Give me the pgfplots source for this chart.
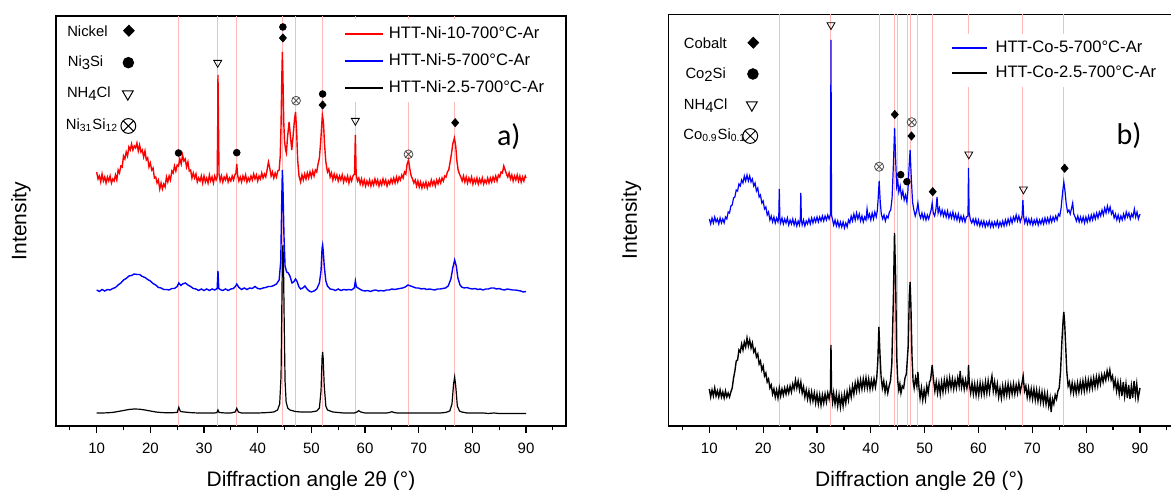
\documentclass[border=0pt]{standalone}
\usepackage{fontspec}
\setmainfont{Liberation Sans}
\newfontfamily\calfont{Carlito}
\usepackage{pgfplots}
\pgfplotsset{compat=1.18}
\definecolor{refpink}{RGB}{255,185,185}
\definecolor{mkgray}{RGB}{80,80,80}

\tikzset{lab/.style={anchor=west, inner sep=0pt, font=\fontsize{7.4}{9}\selectfont}}
\pgfplotsset{
  xrd/.style={
    scale only axis, ymin=0,
    xtick={10,20,...,90}, minor xtick={5,15,...,95},
    ytick=\empty, tick align=outside, xtick pos=left,
    major tick length=3.5pt, minor tick length=2pt,
    tick style={black, line width=0.6pt},
    axis line style={line width=0.7pt},
    /pgf/number format/assume math mode=true,
    xticklabel style={font=\fontsize{7.5}{9}\selectfont, inner sep=0pt, yshift=-5pt},
    xlabel={Diffraction angle 2θ (°)},
    xlabel style={font=\fontsize{10.5}{12}\selectfont, at={(axis description cs:0.5,0)},
      anchor=base, inner sep=0pt, yshift=-30.3pt},
    ylabel={Intensity},
    ylabel style={font=\fontsize{10.5}{12}\selectfont, anchor=center, inner sep=0pt},
    legend cell align=left,
    legend style={draw=none, fill=white, anchor=north west, inner sep=3pt,
      xshift=-3pt, yshift=3pt, font=\fontsize{8.3}{10}\selectfont,
      nodes={inner sep=0pt, text height=6.5pt, text depth=1.8pt}},
  },
  refline/.style={ycomb, refpink, line width=0.5pt, forget plot},
}

\begin{document}
\begin{tikzpicture}
\useasboundingbox (0,0) rectangle (585.5pt,245pt);

% ---------------- a) Ni ----------------
\begin{axis}[xrd, at={(28pt,32pt)}, anchor=south west,
  width=255pt, height=205pt, xmin=2.42, xmax=97.45, ymax=410,
  ylabel style={at={(axis description cs:-0.0686,0.5)}},
  legend image code/.code={\draw[#1, line width=0.9pt] (0pt,0pt) -- (18.6pt,0pt);},
  legend style={at={(0.5647,0.978)}, row sep=5.2pt, column sep=2.75pt}]

\addplot[refline] coordinates {(25.3,410) (32.6,410) (36.1,410) (44.6,410) (47.05,410) (52.1,410) (58.2,410) (68.1,410) (76.7,410)};

\addplot[red, line width=0.7pt] coordinates {
(10,254)(10.25,247)(10.5,250)(10.75,244)(11,252)(11.25,245)(11.5,249)(11.75,243)(12,249)(12.25,245)(12.5,250)(12.75,243)(13,247)(13.25,245)(13.5,251)(13.75,246)(14,256)(14.25,253)(14.5,260)(14.75,259)(15,270)(15.25,267)(15.5,274)(15.75,270)(16,279)(16.25,276)(16.5,282)(16.75,276)(17,280)(17.25,278)(17.5,283)(17.75,275)(18,281)(18.25,274)(18.5,276)(18.75,269)(19,275)(19.25,266)(19.5,268)(19.75,259)(20,263)(20.25,256)(20.5,258)(20.75,248)(21,249)(21.25,243)(21.5,246)(21.75,237)(22,243)(22.25,237)(22.5,242)(22.75,239)(23,249)(23.25,244)(23.5,250)(23.75,246)(24,255)(24.25,253)(24.5,260)(24.75,255)(25,261)(25.25,260)(25.5,267)(25.75,262)(26,271)(26.25,265)(26.5,267)(26.75,259)(27,264)(27.25,255)(27.5,256)(27.75,248)(28,253)(28.25,248)(28.5,252)(28.75,244)(29,248)(29.25,245)(29.5,250)(29.75,243)(30,250)(30.25,244)(30.5,248)(30.75,243)(31,251)(31.25,245)(31.5,249)(31.75,243)(32,250)(32.25,246)(32.45,249)(32.55,300)(32.6,351)(32.7,300)(32.8,252)(33,245)(33.25,250)(33.5,244)(33.75,249)(34,246)(34.25,251)(34.5,244)(34.75,248)(35,245)(35.25,250)(35.5,246)(35.75,251)(35.95,253)(36.1,262)(36.25,251)(36.5,245)(36.75,249)(37,244)(37.25,250)(37.5,246)(37.75,251)(38,244)(38.25,248)(38.5,245)(38.75,250)(39,246)(39.25,252)(39.5,247)(39.75,251)(40,245)(40.25,250)(40.5,247)(40.75,253)(41,248)(41.25,252)(41.5,249)(41.75,256)(42,264)(42.25,258)(42.5,250)(42.75,254)(43,248)(43.25,253)(43.5,249)(43.75,255)(44,256)(44.2,270)(44.35,300)(44.5,350)(44.6,374)(44.7,350)(44.85,305)(45,285)(45.2,276)(45.35,273)(45.55,288)(45.85,304)(46.1,290)(46.35,276)(46.6,290)(46.85,306)(47.05,314)(47.25,296)(47.45,266)(47.7,250)(48,244)(48.25,251)(48.5,246)(48.75,252)(49,247)(49.25,253)(49.5,248)(49.75,254)(50,249)(50.25,255)(50.5,250)(50.75,256)(51,254)(51.25,262)(51.5,268)(51.75,285)(52.05,311)(52.25,304)(52.45,282)(52.7,264)(53,254)(53.25,257)(53.5,249)(53.75,253)(54,246)(54.25,252)(54.5,247)(54.75,251)(55,245)(55.25,250)(55.5,246)(55.75,251)(56,244)(56.25,249)(56.5,245)(56.75,250)(57,243)(57.25,249)(57.5,245)(57.75,250)(58.05,252)(58.2,291)(58.35,251)(58.6,245)(58.85,248)(59.1,242)(59.35,247)(59.6,241)(59.85,246)(60.1,240)(60.35,245)(60.6,241)(60.85,246)(61.1,240)(61.35,245)(61.6,241)(61.85,247)(62.1,242)(62.35,246)(62.6,240)(62.85,245)(63.1,241)(63.35,247)(63.6,242)(63.85,246)(64.1,240)(64.35,245)(64.6,242)(64.85,247)(65.1,243)(65.35,248)(65.6,243)(65.85,249)(66.1,244)(66.35,249)(66.6,246)(66.85,251)(67.1,248)(67.35,254)(67.6,252)(67.85,262)(68.1,266)(68.35,257)(68.6,250)(68.85,247)(69.1,243)(69.35,246)(69.6,240)(69.85,245)(70.1,239)(70.35,244)(70.6,238)(70.85,243)(71.1,239)(71.35,244)(71.6,238)(71.85,243)(72.1,240)(72.35,246)(72.6,241)(72.85,245)(73.1,240)(73.35,246)(73.6,242)(73.85,247)(74.1,243)(74.35,248)(74.6,245)(74.85,250)(75.1,249)(75.35,254)(75.6,256)(75.85,264)(76.1,272)(76.35,282)(76.65,288)(76.9,280)(77.1,266)(77.35,256)(77.6,252)(77.85,249)(78.1,245)(78.35,250)(78.6,244)(78.85,249)(79.1,243)(79.35,248)(79.6,244)(79.85,249)(80.1,242)(80.35,247)(80.6,243)(80.85,248)(81.1,242)(81.35,247)(81.6,243)(81.85,248)(82.1,242)(82.35,246)(82.6,243)(82.85,248)(83.1,243)(83.35,248)(83.6,244)(83.85,249)(84.1,245)(84.35,250)(84.6,245)(84.85,251)(85.1,249)(85.35,254)(85.6,253)(85.85,260)(86.1,256)(86.35,252)(86.6,249)(86.85,253)(87.1,247)(87.35,251)(87.6,245)(87.85,250)(88.1,246)(88.35,251)(88.6,245)(88.85,250)(89.1,244)(89.35,249)(89.6,245)(89.85,250)(90,248)};
\addlegendentry{HTT-Ni-10-700°C-Ar}

\addplot[blue, line width=0.7pt] coordinates {
(10,136)(10.5,134.5)(11,136.5)(11.5,135)(12,136.5)(12.5,136)(13,137.5)(13.5,138.5)(14,141)(14.5,143)(15,146)(15.5,147.5)(16,150)(16.5,150.5)(17,152)(17.5,151.5)(18,151.5)(18.5,149.5)(19,148.5)(19.5,146.5)(20,145)(20.5,142.5)(21,141)(21.5,138.5)(22,138)(22.5,136.5)(23,136.5)(23.5,136)(24,137.5)(24.5,137.5)(25,139.5)(25.3,143)(25.7,140.5)(26,142)(26.5,143)(27,141)(27.5,139.5)(28,137.5)(28.5,137)(29,135.5)(29.5,137)(30,135.5)(30.5,137)(31,135.5)(31.5,137)(32,136)(32.45,137.5)(32.6,155)(32.75,137.5)(33,136.5)(33.5,135.5)(34,137)(34.5,135.5)(35,137)(35.5,137.5)(35.9,140)(36.1,142)(36.5,138.5)(37,136.5)(37.5,138)(38,136.5)(38.5,138)(39,137.5)(39.5,139.5)(40,137.5)(40.5,137)(41,138)(41.5,138.5)(42,139.5)(42.5,139.5)(43,140.5)(43.5,142)(44,146)(44.3,165)(44.5,230)(44.6,256)(44.7,240)(44.9,190)(45.1,160)(45.4,154)(45.7,153)(46,150)(46.4,143)(46.7,144)(47.05,147)(47.3,145)(47.7,139)(48,137)(48.4,138)(48.8,140)(49.2,137)(49.6,135)(50,134)(50.5,135)(51,137)(51.5,143)(51.8,155)(52,178)(52.1,181)(52.2,176)(52.4,160)(52.7,145)(53,140)(53.5,137)(54,136.5)(54.5,135.5)(55,137)(55.5,135.5)(56,136.5)(56.5,136)(57,136.5)(57.5,136)(58,138)(58.2,145)(58.4,139)(59,137)(59.5,135.5)(60,135)(60.5,135.5)(61,134.5)(61.5,135.5)(62,136)(62.5,135)(63,135.5)(63.5,135)(64,136)(64.5,136)(65,137)(65.5,136.5)(66,137)(66.5,137.5)(67,138)(67.5,139)(68,141)(68.5,140)(69,139)(69.5,138)(70,138)(70.5,137)(71,137.5)(71.5,136.5)(72,137)(72.5,136.5)(73,136)(73.5,137)(74,137)(74.5,137.5)(75,138)(75.5,140)(76,147)(76.35,158)(76.7,166)(77,160)(77.3,148)(77.7,141)(78,139)(78.5,138)(79,138.5)(79.5,137.5)(80,137)(80.5,137.5)(81,136.5)(81.5,137)(82,136)(82.5,137)(83,137)(83.5,138)(84,138)(84.5,137)(85,137.5)(85.5,136.5)(86,136)(86.5,137)(87,136.5)(87.5,136)(88,136)(88.5,135.5)(89,135)(89.5,134)(90,134.5)};
\addlegendentry{HTT-Ni-5-700°C-Ar}

\addplot[black, line width=0.6pt] coordinates {
(10,13)(11,13)(12,13.2)(13,13.6)(14,14.5)(15,15.5)(16,16.5)(17,17)(18,16.8)(19,16)(20,15)(21,14)(22,13.5)(23,13.2)(24,13.2)(25,13.6)(25.3,18.7)(25.6,14.5)(26,14.2)(27,13.6)(28,13.2)(29,13)(30,13)(31,13)(32,13)(32.4,13.5)(32.6,16)(32.8,13.5)(34,13)(35,13)(35.8,14)(36.1,17.7)(36.4,14)(37,13)(38,13)(39,13)(40,13)(41,13.2)(42,13.5)(43,14)(43.7,16)(44.1,22)(44.35,50)(44.5,120)(44.6,170)(44.7,181)(44.8,165)(44.95,100)(45.1,45)(45.3,24)(45.6,18)(46,16)(47,14.5)(48,14)(49,14)(50,14)(51,15)(51.5,18)(51.8,35)(52,68)(52.1,74)(52.2,68)(52.4,40)(52.7,20)(53,16)(54,14)(55,13.5)(56,13)(57,13)(58,13)(58.5,14)(58.8,15.3)(59.2,14)(60,13)(61,13)(62,13)(63,13)(64,13)(64.6,13.5)(65,14.3)(65.4,13.5)(66,13)(67,13)(68,13)(69,13)(70,13)(71,13)(72,13)(73,13)(74,13)(75,13.5)(75.8,15)(76.2,22)(76.5,42)(76.7,49)(76.9,40)(77.2,20)(77.6,15)(78,14)(79,13)(80,13)(81,13)(82,13)(83,12.5)(84,13)(85,12.5)(86,12.5)(87,12.5)(88,12.5)(89,12.5)(90,12.5)};
\addlegendentry{HTT-Ni-2.5-700°C-Ar}

% phase markers above peaks
\addplot[only marks, mark=*, mark size=1.67pt, black, forget plot] coordinates {(25.25,273) (36.1,273.3) (44.7,399) (52.1,332)};
\addplot[only marks, mark=diamond*, mark size=2pt, mark options={xscale=1.15}, black, forget plot] coordinates {(44.7,388) (52.1,321) (76.8,303.3)};
\addplot[only marks, mark=triangle, mark size=2.3pt, mark options={rotate=180, line width=0.4pt}, black, forget plot] coordinates {(32.55,363.3) (58.2,305.3)};
\addplot[only marks, mark=otimes, mark size=2.2pt, mark options={line width=0.4pt}, mkgray, forget plot] coordinates {(47.15,325.3) (68.1,271.7)};
% symbol key
\addplot[only marks, mark=diamond*, mark size=2.75pt, mark options={xscale=1.3}, black, forget plot] coordinates {(16.0,395.3)};
\addplot[only marks, mark=*, mark size=2.67pt, black, forget plot] coordinates {(15.9,363.3)};
\addplot[only marks, mark=triangle, mark size=3.1pt, mark options={rotate=180, line width=0.5pt}, black, forget plot] coordinates {(15.8,332)};
\addplot[only marks, mark=otimes, mark size=3.7pt, mark options={line width=0.5pt}, black, forget plot] coordinates {(15.9,300)};

\node[lab] at (axis cs:4.45,394.3) {Nickel};
\node[lab] at (axis cs:4.55,363.3) {Ni\raisebox{-0.35ex}{3}Si};
\node[lab] at (axis cs:4.4,332) {NH\raisebox{-0.35ex}{4}Cl};
\node[lab] at (axis cs:4.2,301) {Ni\textsubscript{31}Si\textsubscript{12}};
\node[font=\calfont\fontsize{15}{18}\selectfont, inner sep=0pt] at (axis cs:86.8,289) {a)};
\end{axis}

% ---------------- b) Co ----------------
\begin{axis}[xrd, at={(334.15pt,32pt)}, anchor=south west,
  width=251.3pt, height=205.75pt, xmin=2.38, xmax=95.75, ymax=411.5,
  axis y line*=left,
  ylabel style={at={(axis description cs:-0.0736,0.5)}},
  legend image code/.code={\draw[#1, line width=0.9pt] (0pt,0pt) -- (17.6pt,0pt);},
  legend style={at={(0.5617,0.9395)}, row sep=4.2pt, column sep=3.75pt}]

\addplot[refline] coordinates {(23.0,411.5) (32.6,411.5) (41.55,411.5) (44.45,411.5) (44.9,411.5) (46.75,411.5) (47.35,411.5) (48.75,411.5) (51.4,411.5) (58.15,411.5) (68.25,411.5) (75.85,411.5)};

\addplot[blue, line width=0.6pt] coordinates {
(10,207)(10.25,202)(10.5,208)(10.75,203)(11,209)(11.25,204)(11.5,207)(11.75,202)(12,208)(12.25,203)(12.5,207)(12.75,203)(13,209)(13.25,207)(13.5,214)(13.75,213)(14,220)(14.25,221)(14.5,228)(14.75,229)(15,236)(15.25,235)(15.5,242)(15.75,240)(16,246)(16.25,243)(16.5,250)(16.75,245)(17,251)(17.25,245)(17.5,250)(17.75,244)(18,247)(18.25,240)(18.5,243)(18.75,235)(19,238)(19.25,229)(19.5,231)(19.75,223)(20,225)(20.25,217)(20.5,219)(20.75,211)(21,214)(21.25,206)(21.5,210)(21.75,204)(22,209)(22.25,203)(22.5,208)(22.75,204)(22.9,209)(23,237)(23.1,208)(23.25,203)(23.5,208)(23.75,202)(24,207)(24.25,203)(24.5,208)(24.75,201)(25,206)(25.25,202)(25.5,207)(25.75,201)(26,206)(26.25,200)(26.5,205)(26.75,201)(26.9,207)(27,233)(27.1,206)(27.25,201)(27.5,206)(27.75,200)(28,205)(28.25,202)(28.5,207)(28.75,202)(29,208)(29.25,203)(29.5,208)(29.75,204)(30,209)(30.25,204)(30.5,209)(30.75,205)(31,210)(31.25,205)(31.5,210)(31.75,206)(32,211)(32.25,207)(32.5,212)(32.6,386)(32.7,211)(32.9,206)(33.1,201)(33.35,206)(33.6,200)(33.85,205)(34.1,199)(34.35,204)(34.6,199)(34.85,204)(35.1,198)(35.35,203)(35.6,199)(35.85,206)(36.1,203)(36.35,210)(36.6,205)(36.85,212)(37.1,206)(37.35,213)(37.6,207)(37.85,212)(38.1,205)(38.35,210)(38.6,204)(38.85,209)(39.1,206)(39.3,217)(39.5,208)(39.75,212)(40,206)(40.25,213)(40.5,207)(40.75,214)(41,209)(41.2,215)(41.35,226)(41.55,245)(41.75,224)(41.95,212)(42.2,207)(42.45,211)(42.7,205)(42.95,210)(43.2,208)(43.45,214)(43.7,216)(43.95,228)(44.2,262)(44.42,298)(44.6,268)(44.8,240)(45,246)(45.2,234)(45.45,240)(45.7,229)(45.95,235)(46.2,226)(46.45,231)(46.7,224)(46.9,236)(47.1,258)(47.3,276)(47.5,250)(47.75,224)(48,216)(48.25,210)(48.5,215)(48.75,223)(49,212)(49.25,208)(49.5,213)(49.75,207)(50,212)(50.25,206)(50.5,211)(50.75,207)(51,212)(51.2,216)(51.4,223)(51.6,213)(51.85,210)(52.1,217)(52.3,229)(52.5,213)(52.75,218)(53,211)(53.25,216)(53.5,210)(53.75,215)(54,209)(54.25,215)(54.5,208)(54.75,213)(55,208)(55.25,214)(55.5,207)(55.75,212)(56,206)(56.25,212)(56.5,205)(56.75,210)(57,205)(57.25,210)(57.5,204)(57.75,209)(58.05,210)(58.15,258)(58.25,214)(58.5,206)(58.75,203)(59,207)(59.25,202)(59.5,207)(59.75,201)(60,206)(60.25,200)(60.5,205)(60.75,200)(61,205)(61.25,199)(61.5,204)(61.75,200)(62,205)(62.25,199)(62.5,204)(62.75,199)(63,204)(63.25,200)(63.5,205)(63.75,199)(64,204)(64.25,200)(64.5,205)(64.75,200)(65,206)(65.25,201)(65.5,207)(65.75,202)(66,208)(66.25,203)(66.5,209)(66.75,205)(67,211)(67.25,205)(67.5,210)(67.75,204)(68.1,210)(68.25,226)(68.4,209)(68.6,203)(68.85,208)(69.1,202)(69.35,207)(69.6,202)(69.85,207)(70.1,201)(70.35,206)(70.6,202)(70.85,207)(71.1,201)(71.35,206)(71.6,202)(71.85,207)(72.1,202)(72.35,208)(72.6,203)(72.85,208)(73.1,203)(73.35,209)(73.6,204)(73.85,209)(74.1,205)(74.35,210)(74.6,206)(74.85,212)(75.1,210)(75.35,218)(75.6,232)(75.85,244)(76.05,236)(76.3,222)(76.55,214)(76.8,216)(77.05,212)(77.3,218)(77.5,223)(77.7,212)(77.95,209)(78.2,205)(78.45,210)(78.7,204)(78.95,209)(79.2,204)(79.45,209)(79.7,203)(79.95,209)(80.2,204)(80.45,210)(80.7,205)(80.95,211)(81.2,206)(81.45,212)(81.7,207)(81.95,213)(82.2,208)(82.45,214)(82.7,210)(82.95,216)(83.2,211)(83.45,218)(83.7,213)(83.95,220)(84.2,214)(84.45,219)(84.7,212)(84.95,215)(85.2,208)(85.45,212)(85.7,206)(85.95,211)(86.2,205)(86.45,210)(86.7,206)(86.95,212)(87.2,207)(87.45,214)(87.7,209)(87.95,213)(88.2,207)(88.45,212)(88.7,209)(88.95,217)(89.2,209)(89.45,214)(89.7,207)(90,212)};
\addlegendentry{HTT-Co-5-700°C-Ar}

\addplot[black, line width=0.7pt] coordinates {
(10,37)(10.25,29)(10.5,36)(10.75,30)(11,38)(11.25,30)(11.5,35)(11.75,29)(12,36)(12.25,29)(12.5,34)(12.75,28)(13,35)(13.25,29)(13.5,33)(13.75,29)(14,34)(14.25,38)(14.5,48)(14.75,55)(15,65)(15.25,66)(15.5,76)(15.75,74)(16,82)(16.25,76)(16.5,84)(16.75,79)(17,88)(17.25,80)(17.5,86)(17.75,78)(18,83)(18.25,74)(18.5,77)(18.75,69)(19,72)(19.25,62)(19.5,65)(19.75,56)(20,60)(20.25,50)(20.5,53)(20.75,44)(21,47)(21.25,38)(21.5,41)(21.75,32)(22,37)(22.25,29)(22.5,36)(22.75,28)(23,38)(23.25,30)(23.5,37)(23.75,31)(24,38)(24.25,32)(24.5,39)(24.75,33)(25,40)(25.25,34)(25.5,42)(25.75,37)(26,46)(26.25,38)(26.5,45)(26.75,36)(27,44)(27.25,33)(27.5,39)(27.75,29)(28,36)(28.25,27)(28.5,35)(28.75,25)(29,34)(29.25,25)(29.5,33)(29.75,23)(30,32)(30.25,22)(30.5,31)(30.75,21)(31,31)(31.25,23)(31.5,32)(31.75,24)(32,33)(32.25,27)(32.5,36)(32.6,81)(32.7,36)(32.9,24)(33.1,33)(33.35,22)(33.6,32)(33.85,20)(34.1,31)(34.35,19)(34.6,30)(34.85,20)(35.1,32)(35.35,23)(35.6,34)(35.85,26)(36.1,37)(36.35,29)(36.6,40)(36.85,32)(37.1,43)(37.35,35)(37.6,45)(37.85,36)(38.1,46)(38.35,37)(38.6,47)(38.85,38)(39.1,48)(39.35,38)(39.6,47)(39.85,37)(40.1,46)(40.35,38)(40.6,47)(40.85,39)(41.1,48)(41.3,65)(41.5,99)(41.7,72)(41.9,50)(42.15,38)(42.4,45)(42.65,34)(42.9,42)(43.15,33)(43.4,40)(43.65,45)(43.9,62)(44.2,130)(44.4,193)(44.6,150)(44.8,70)(45,45)(45.2,36)(45.4,42)(45.6,33)(45.85,40)(46.1,38)(46.35,48)(46.6,52)(46.95,80)(47.15,130)(47.3,144)(47.45,120)(47.65,70)(47.85,45)(48.05,38)(48.3,48)(48.55,40)(48.75,54)(48.95,38)(49.15,28)(49.4,38)(49.65,26)(49.9,36)(50.15,27)(50.4,40)(50.65,33)(50.9,44)(51.1,46)(51.4,61)(51.65,46)(51.9,35)(52.15,44)(52.4,33)(52.65,43)(52.9,32)(53.15,44)(53.4,34)(53.65,46)(53.9,36)(54.15,47)(54.4,37)(54.65,48)(54.9,38)(55.15,47)(55.4,37)(55.65,46)(55.9,38)(56.15,48)(56.4,40)(56.6,55)(56.85,39)(57.1,47)(57.35,37)(57.6,46)(57.85,38)(58.05,45)(58.15,61)(58.3,42)(58.55,33)(58.8,43)(59.05,32)(59.3,42)(59.55,31)(59.8,42)(60.05,31)(60.3,43)(60.55,32)(60.8,42)(61.05,32)(61.3,44)(61.55,33)(61.8,45)(62.05,34)(62.3,44)(62.5,50)(62.75,35)(63,44)(63.25,33)(63.5,42)(63.75,29)(64,38)(64.25,28)(64.5,40)(64.75,30)(65,41)(65.25,31)(65.5,42)(65.75,31)(66,41)(66.25,32)(66.5,42)(66.75,32)(67,41)(67.25,33)(67.5,43)(67.75,34)(68.05,42)(68.3,50)(68.55,35)(68.8,40)(69.05,29)(69.3,38)(69.55,28)(69.8,37)(70.05,27)(70.3,37)(70.55,26)(70.8,36)(71.05,25)(71.3,35)(71.55,24)(71.8,34)(72.05,23)(72.3,33)(72.55,22)(72.8,32)(73.05,20)(73.3,28)(73.5,14)(73.75,27)(74,22)(74.25,31)(74.5,27)(74.75,35)(75,38)(75.25,55)(75.5,85)(75.75,108)(75.85,114)(76,104)(76.2,80)(76.4,55)(76.65,40)(76.9,44)(77.15,34)(77.4,43)(77.65,33)(77.9,42)(78.15,33)(78.4,43)(78.65,34)(78.9,44)(79.15,35)(79.4,45)(79.65,35)(79.9,46)(80.15,36)(80.4,46)(80.65,37)(80.9,47)(81.15,38)(81.4,48)(81.65,39)(81.9,49)(82.15,40)(82.4,50)(82.65,42)(82.9,51)(83.15,44)(83.4,52)(83.65,46)(83.9,55)(84.15,48)(84.4,56)(84.65,46)(84.9,50)(85.15,39)(85.4,46)(85.65,35)(85.9,44)(86.15,32)(86.4,43)(86.65,30)(86.9,44)(87.15,30)(87.4,42)(87.65,28)(87.9,41)(88.15,27)(88.4,40)(88.65,28)(88.9,45)(89.15,30)(89.4,42)(89.65,27)(90,38)};
\addlegendentry{HTT-Co-2.5-700°C-Ar}

\addplot[only marks, mark=*, mark size=1.67pt, black, forget plot] coordinates {(45.55,251.3) (46.7,244.3)};
\addplot[only marks, mark=diamond*, mark size=2pt, mark options={xscale=1.15}, black, forget plot] coordinates {(44.45,311.5) (47.55,290) (51.5,234.3) (76.0,257.7)};
\addplot[only marks, mark=triangle, mark size=2.3pt, mark options={rotate=180, line width=0.4pt}, black, forget plot] coordinates {(32.6,401) (58.2,271.7) (68.35,236.7)};
\addplot[only marks, mark=otimes, mark size=2.3pt, mark options={line width=0.4pt}, mkgray, forget plot] coordinates {(41.55,259.3) (47.6,303.7)};
% symbol key
\addplot[only marks, mark=diamond*, mark size=2.75pt, mark options={xscale=1.3}, black, forget plot] coordinates {(18.17,383.3)};
\addplot[only marks, mark=*, mark size=2.67pt, black, forget plot] coordinates {(18.1,352)};
\addplot[only marks, mark=triangle, mark size=3.1pt, mark options={rotate=180, line width=0.5pt}, black, forget plot] coordinates {(17.9,321)};
\addplot[only marks, mark=otimes, mark size=3.7pt, mark options={line width=0.5pt}, black, forget plot] coordinates {(17.6,290)};

\node[lab] at (axis cs:5.2,382.7) {Cobalt};
\node[lab] at (axis cs:5.5,351) {Co\raisebox{-0.35ex}{2}Si};
\node[lab] at (axis cs:5.2,320) {NH\raisebox{-0.35ex}{4}Cl};
\node[lab] at (axis cs:5.1,291) {Co\textsubscript{0.9}Si\textsubscript{0.1}};
\node[font=\calfont\fontsize{15}{18}\selectfont, inner sep=0pt] at (axis cs:87.95,290) {b)};
\end{axis}
\end{tikzpicture}
\end{document}
